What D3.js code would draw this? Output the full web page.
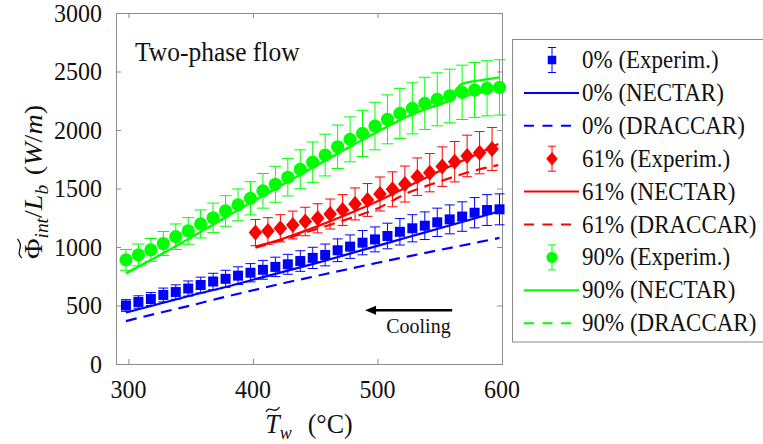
<!DOCTYPE html>
<html><head><meta charset="utf-8">
<script src="https://cdn.jsdelivr.net/npm/d3@7"></script>
<style>
html,body{margin:0;padding:0;background:#fff;overflow:hidden}
svg text{font-family:'Liberation Serif','Times New Roman','Nimbus Roman','DejaVu Serif',serif;}
</style>
</head><body><svg id="chart" width="763" height="444"></svg>
<script>
// ---------------- DATA ----------------
const xTicks = [300, 400, 500, 600];
const yTicks = [0, 500, 1000, 1500, 2000, 2500, 3000];

const tempsExp = [298,308,318,328,338,348,358,368,378,388,398,408,418,428,438,448,458,468,478,488,498,508,518,528,538,548,558,568,578,588,598];
const exp0  = [500,530,555,590,615,645,675,705,728,755,780,805,830,852,880,907,932,972,1003,1037,1065,1094,1130,1160,1182,1211,1236,1260,1293,1316,1322];
const exp90 = [890,932,975,1030,1088,1137,1197,1250,1308,1360,1416,1480,1536,1596,1664,1725,1786,1857,1920,1971,2034,2091,2142,2185,2228,2262,2291,2322,2342,2356,2364];
const temps61 = [402,412,422,432,442,452,462,472,482,492,502,512,522,532,542,552,562,572,582,592];
const exp61 = [1123,1137,1160,1188,1218,1245,1282,1316,1368,1402,1453,1493,1538,1601,1635,1687,1729,1778,1806,1838];
const relError = 0.10; // experimental uncertainty (+/- 10 %)

const modelT0   = [298,325,350,375,400,425,450,475,500,525,550,575,598];
const nectar0   = [440,515,585,650,720,790,860,935,1010,1085,1160,1235,1305];
const draccar0  = [367,437,500,567,630,692,750,808,865,920,975,1028,1078];

const modelT61  = [402,425,450,475,500,525,550,575,597];
const nectar61  = [1003,1075,1170,1275,1390,1520,1650,1770,1880];
const draccar61 = [995,1065,1150,1235,1330,1465,1560,1645,1700];

const nectarT90  = [298,325,350,375,400,425,450,475,500,525,540,555,568,583,598];
const nectar90   = [775,930,1080,1235,1390,1540,1690,1840,1985,2120,2185,2240,2395,2425,2450];
const draccarT90 = [298,325,350,375,400,425,450,475,500,525,540,555,575,598];
const draccar90  = [775,930,1080,1235,1390,1540,1690,1840,1985,2120,2185,2240,2300,2345];

const legendLabels = ["0% (Experim.)","0% (NECTAR)","0% (DRACCAR)","61% (Experim.)","61% (NECTAR)","61% (DRACCAR)","90% (Experim.)","90% (NECTAR)","90% (DRACCAR)"];
const annotationText = "Two-phase flow";
const arrowText = "Cooling";

// ---------------- SETUP ----------------
const svg = d3.select('#chart');
const plot = {left:116, right:502, top:13, bottom:364};
const x = d3.scaleLinear().domain([290, 600]).range([plot.left, plot.right]);
const y = d3.scaleLinear().domain([0, 3000]).range([plot.bottom, plot.top]);
const FONT = "'Liberation Serif','Times New Roman','Nimbus Roman','DejaVu Serif',serif";
const AX = '#8c8c8c';
const TXT = '#111';
const SY = 1.08;
const BLUE = '#0000ff', RED = '#ff0000', GREEN = '#00ff00';

function tgroup(px, py, sy, rot) {
  return svg.append('g').attr('transform', `translate(${px},${py}) scale(1,${sy})` + (rot ? ` rotate(${rot})` : ''));
}
function txt(g) { return g.append('text').style('font-family', FONT).attr('fill', TXT); }

svg.append('rect').attr('width',763).attr('height',444).attr('fill','#fff');

// ---------------- AXES ----------------
function styleAxis(g){ g.select('.domain').remove(); g.selectAll('line').attr('stroke', AX).attr('stroke-width',1); }
svg.append('g').attr('transform',`translate(0,${plot.bottom})`)
  .call(d3.axisBottom(x).tickValues(xTicks).tickSize(-5).tickFormat('')).call(styleAxis);
svg.append('g').attr('transform',`translate(0,${plot.top})`)
  .call(d3.axisTop(x).tickValues(xTicks).tickSize(-5).tickFormat('')).call(styleAxis);
svg.append('g').attr('transform',`translate(${plot.left},0)`)
  .call(d3.axisLeft(y).tickValues(yTicks).tickSize(-5).tickFormat('')).call(styleAxis);
svg.append('g').attr('transform',`translate(${plot.right},0)`)
  .call(d3.axisRight(y).tickValues(yTicks).tickSize(-5).tickFormat('')).call(styleAxis);
svg.append('rect').attr('x',plot.left).attr('y',plot.top)
  .attr('width',plot.right-plot.left).attr('height',plot.bottom-plot.top)
  .attr('fill','none').attr('stroke',AX).attr('stroke-width',1).attr('shape-rendering','crispEdges');

xTicks.forEach(t => {
  txt(tgroup(x(t), 398, SY)).attr('text-anchor','middle').attr('font-size',24).text(t);
});
yTicks.forEach(t => {
  txt(tgroup(102, y(t) + 8.5, SY)).attr('text-anchor','end').attr('font-size',24).text(t);
});

// ---------------- AXIS LABELS ----------------
function tilde(g, textNode, charIndex, fs) {
  const s = textNode.getStartPositionOfChar(charIndex);
  const e = textNode.getEndPositionOfChar(charIndex);
  const w = e.x - s.x, x0 = s.x + w*0.05, x1 = e.x - w*0.02;
  const ym = s.y - fs*0.86, a = 2.2;
  const ww = x1 - x0;
  g.append('path')
    .attr('d', `M${x0},${ym+a} C${x0+ww*0.3},${ym-a*2.2} ${x0+ww*0.6},${ym+a*2.4} ${x1},${ym-a}`)
    .attr('fill','none').attr('stroke',TXT).attr('stroke-width',1.3);
}

// x label
{
  const fs = 26;
  const g = tgroup(309, 433, 1.05);
  const t = txt(g).attr('text-anchor','middle').attr('font-size',fs);
  t.append('tspan').attr('font-style','italic').text('T');
  t.append('tspan').attr('font-style','italic').attr('font-size',18).attr('dy',6).text('w');
  t.append('tspan').attr('dy',-6).attr('dx',16).text('(°C)');
  tilde(g, t.node(), 0, fs);
}
// y label
{
  const fs = 26;
  const g = tgroup(42, 182, 1.08, -90);
  const t = txt(g).attr('text-anchor','middle').attr('font-size',fs);
  t.append('tspan').text('Φ');
  t.append('tspan').attr('font-style','italic').attr('font-size',18).attr('dy',6).text('int');
  t.append('tspan').attr('dy',-6).text('/');
  t.append('tspan').attr('font-style','italic').text('L');
  t.append('tspan').attr('font-style','italic').attr('font-size',18).attr('dy',6).text('b');
  t.append('tspan').attr('dy',-6).attr('dx',9).text('(');
  t.append('tspan').attr('font-style','italic').text('W');
  t.append('tspan').text('/');
  t.append('tspan').attr('font-style','italic').text('m');
  t.append('tspan').text(')');
  tilde(g, t.node(), 0, fs);
}

// ---------------- MODEL LINES ----------------
const lineGen = d3.line().x(d => x(d[0])).y(d => y(d[1])).curve(d3.curveMonotoneX);
const zip = (a, b) => a.map((v, i) => [v, b[i]]);
const lines = [
  {pts: zip(modelT0, draccar0), color: BLUE, dash: '11,7'},
  {pts: zip(modelT0, nectar0), color: BLUE, dash: null},
  {pts: zip(modelT61, draccar61), color: RED, dash: '11,7'},
  {pts: zip(modelT61, nectar61), color: RED, dash: null},
  {pts: zip(draccarT90, draccar90), color: GREEN, dash: '11,7'},
  {pts: zip(nectarT90, nectar90), color: GREEN, dash: null},
];
lines.forEach(l => {
  svg.append('path').attr('d', lineGen(l.pts)).attr('fill','none')
    .attr('stroke', l.color).attr('stroke-width', 2.2)
    .attr('stroke-dasharray', l.dash);
});

// ---------------- EXPERIMENTS ----------------
function marker(g, shape, cx, cy, color, scale=1) {
  if (shape === 'square') {
    const s = 10*scale;
    g.append('rect').attr('x', cx - s/2).attr('y', cy - s/2).attr('width', s).attr('height', s).attr('fill', color);
  } else if (shape === 'diamond') {
    const w = 6.8*scale, h = 8*scale;
    g.append('path').attr('d', `M${cx},${cy-h} L${cx+w},${cy} L${cx},${cy+h} L${cx-w},${cy} Z`).attr('fill', color);
  } else {
    g.append('circle').attr('cx', cx).attr('cy', cy).attr('r', 6.6*scale).attr('fill', color);
  }
}
const expSeries = [
  {t: tempsExp, v: exp0, color: BLUE, shape: 'square', cap: 10},
  {t: temps61, v: exp61, color: RED, shape: 'diamond', cap: 10},
  {t: tempsExp, v: exp90, color: GREEN, shape: 'circle', cap: 12},
];
expSeries.forEach(s => {
  const g = svg.append('g');
  s.t.forEach((tt, i) => {
    const v = s.v[i], lo = v*(1-relError), hi = v*(1+relError);
    const cx = x(tt);
    g.append('line').attr('x1',cx).attr('x2',cx).attr('y1',y(lo)).attr('y2',y(hi)).attr('stroke',s.color).attr('stroke-width',1);
    [lo, hi].forEach(e => g.append('line').attr('x1',cx - s.cap/2).attr('x2',cx + s.cap/2).attr('y1',y(e)).attr('y2',y(e)).attr('stroke',s.color).attr('stroke-width',1));
  });
  s.t.forEach((tt, i) => marker(g, s.shape, x(tt), y(s.v[i]), s.color));
});

// ---------------- ANNOTATIONS ----------------
txt(tgroup(x(305.3), y(2590), 1.08)).attr('font-size',25.5).text(annotationText);
{
  const xa = x(560), xb = x(490), ya = y(460);
  svg.append('line').attr('x1',xa).attr('x2',xb + 9).attr('y1',ya).attr('y2',ya).attr('stroke','#000').attr('stroke-width',2.6);
  svg.append('path').attr('d',`M${xb},${ya} L${xb+11},${ya-4.5} L${xb+11},${ya+4.5} Z`).attr('fill','#000');
  txt(tgroup(x(507), y(265), 1.03)).attr('font-size',20).text(arrowText);
}

// ---------------- LEGEND ----------------
{
  const lg = svg.append('g');
  lg.append('rect').attr('x',512.5).attr('y',39.5).attr('width',260).attr('height',302.5)
    .attr('fill','#fff').attr('stroke',AX).attr('stroke-width',1);
  const colors = [BLUE, BLUE, BLUE, RED, RED, RED, GREEN, GREEN, GREEN];
  const shapes = ['square', 'diamond', 'circle'];
  legendLabels.forEach((lab, i) => {
    const cy = 60 + i*32.9;
    const kind = i % 3;
    if (kind === 0) {
      lg.append('line').attr('x1',552).attr('x2',552).attr('y1',cy-12.5).attr('y2',cy+12.5).attr('stroke',colors[i]).attr('stroke-width',1);
      [cy-12.5, cy+12.5].forEach(e => lg.append('line').attr('x1',548).attr('x2',556).attr('y1',e).attr('y2',e).attr('stroke',colors[i]).attr('stroke-width',1));
      marker(lg, shapes[Math.floor(i/3)], 552, cy, colors[i], 0.85);
    } else {
      lg.append('line').attr('x1',524).attr('x2',579).attr('y1',cy).attr('y2',cy)
        .attr('stroke',colors[i]).attr('stroke-width',2).attr('stroke-dasharray', kind === 2 ? '10,8.5' : null);
    }
    txt(tgroup(582, cy + 8, 1.08)).attr('font-size',23).text(lab);
  });
}
</script></body></html>
